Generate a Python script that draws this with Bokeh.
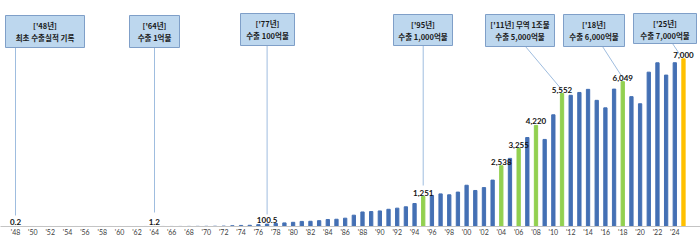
from bokeh.plotting import figure
from bokeh.models import Range1d, FixedTicker, BoxAnnotation, Label
from bokeh.embed import file_html
from bokeh.resources import INLINE

# ---------------- data ----------------
years = list(range(1948, 2026))
exports = [0.2, 0.1, 0.2, 0.1, 0.3, 0.4, 0.2, 0.2, 0.2, 0.2, 0.2, 0.2,          # 1948-1959
           0.3, 0.4, 0.5, 0.9, 1.2, 1.8, 2.5, 3.2, 4.6, 6.2,                    # 1960-1969
           8.4, 10.7, 16.2, 32.3, 44.6, 50.8, 77.2, 100.5, 127.1, 150.6,        # 1970s
           175.1, 212.5, 218.5, 244.5, 292.4, 302.8, 347.1, 472.8, 607.0, 623.8,  # 1980s
           650.2, 718.7, 766.3, 822.4, 960.1, 1251, 1297.2, 1361.6, 1323.1, 1436.9,  # 1990s
           1722.7, 1504.4, 1624.7, 1938.2, 2538, 2844.2, 3255, 3714.9, 4220, 3635.3,  # 2000s
           4663.8, 5552, 5478.7, 5596.3, 5726.6, 5267.6, 4954.3, 5736.9, 6049, 5422.3,  # 2010s
           5125.0, 6444.0, 6835.8, 6322.4, 6838.0, 7000]                        # 2020-2025
green_years = [1995, 2004, 2006, 2008, 2011, 2018]
orange_years = [2025]

label_years = [1948, 1964, 1977, 1995, 2004, 2006, 2008, 2011, 2018, 2025]
label_texts = ["0.2", "1.2", "100.5", "1,251", "2,538", "3,255", "4,220", "5,552", "6,049", "7,000"]

tick_years = list(range(1948, 2025, 2))
tick_labels = ["'48", "'50", "'52", "'54", "'56", "'58", "'60", "'62", "'64", "'66",
               "'68", "'70", "'72", "'74", "'76", "'78", "'80", "'82", "'84", "'86",
               "'88", "'90", "'92", "'94", "'96", "'98", "'00", "'02", "'04", "'06",
               "'08", "'10", "'12", "'14", "'16", "'18", "'20", "'22", "'24"]

callout_titles = ["['48년]", "['64년]", "['77년]", "['95년]", "['11년] 무역 1조불", "['18년]", "['25년]"]
callout_texts = ["최초 수출실적 기록", "수출 1억불", "수출 100억불", "수출 1,000억불",
                 "수출 5,000억불", "수출 6,000억불", "수출 7,000억불"]

# ---------------- layout (pixels) ----------------
W, H = 700, 247
BASE = 226          # pixel row of the baseline
KX = 8.675          # px per year
KY = 0.02395        # px per unit


def dx(px):
    return 1948 + (px - 15) / KX


def dy(py):
    return (BASE - py) / KY


# box: left, right, top, bottom ; leader: x0, y0, x1, y1
callout_boxes = [(5, 84, 15, 47), (129, 179, 15, 47), (240, 294, 13, 45), (393, 452, 14, 45),
                 (485, 554, 14, 46), (563, 624, 14, 46), (633, 696, 13, 43)]
callout_leaders = [(15, 47, 15, 215), (154, 47, 154, 212), (266.6, 45, 266.6, 214),
                   (422.7, 45, 422.7, 185), (525, 46, 562, 90), (602, 46, 622, 77),
                   (672, 43, 680, 55)]

BLUE, GREEN, ORANGE = "#4470b4", "#92d050", "#ffc000"
colors = [GREEN if y in green_years else ORANGE if y in orange_years else BLUE for y in years]

p = figure(width=W, height=H, output_backend="svg", toolbar_location=None,
           x_range=Range1d(dx(0), dx(W)), y_range=Range1d(0, dy(0)),
           y_axis_location=None, min_border_left=0, min_border_right=0,
           min_border_top=0, min_border_bottom=H - BASE)
p.outline_line_color = None
p.xgrid.visible = False
p.ygrid.visible = False
p.background_fill_color = "white"
p.border_fill_color = "white"

p.vbar(x=years, top=exports, width=0.38, color=colors)

# leader lines
p.segment(x0=[dx(l[0]) for l in callout_leaders], y0=[dy(l[1]) for l in callout_leaders],
          x1=[dx(l[2]) for l in callout_leaders], y1=[dy(l[3]) for l in callout_leaders],
          line_color="#9fbddf", line_width=1)

# callout boxes + texts
for (l, r, t, b), t1, t2 in zip(callout_boxes, callout_titles, callout_texts):
    p.add_layout(BoxAnnotation(left=dx(l), right=dx(r), top=dy(t), bottom=dy(b),
                               fill_color="#bdd7ee", fill_alpha=1.0,
                               line_color="#7f9fc8", line_width=1, line_alpha=1.0))
    cx = dx((l + r) / 2)
    for txt, off in ((t1, 9.5), (t2, 21.5)):
        p.add_layout(Label(x=cx, y=dy(t + off), text=txt, text_align="center",
                           text_baseline="middle", text_font="Noto Sans CJK KR",
                           text_font_size="7.5px", text_font_style="bold", text_color="#1a1a1a"))

# value labels
val_of = dict(zip(years, exports))
for yr, txt in zip(label_years, label_texts):
    p.add_layout(Label(x=yr, y=val_of[yr], text=txt, text_align="center",
                       text_baseline="bottom", y_offset=1, text_font="Lato",
                       text_font_size="8px", text_font_style="bold", text_color="#111111"))

ax = p.xaxis[0]
ax.ticker = FixedTicker(ticks=tick_years)
ax.major_label_overrides = {y: s for y, s in zip(tick_years, tick_labels)}
ax.axis_line_color = "#c4c4c4"
ax.major_tick_line_color = None
ax.minor_tick_line_color = None
ax.major_tick_out = 0
ax.major_tick_in = 0
ax.minor_tick_out = 0
ax.minor_tick_in = 0
ax.major_label_standoff = 1
ax.major_label_text_font = "Lato"
ax.major_label_text_font_size = "7px"
ax.major_label_text_color = "#404040"

open("out.html", "w").write(file_html(p, INLINE))
